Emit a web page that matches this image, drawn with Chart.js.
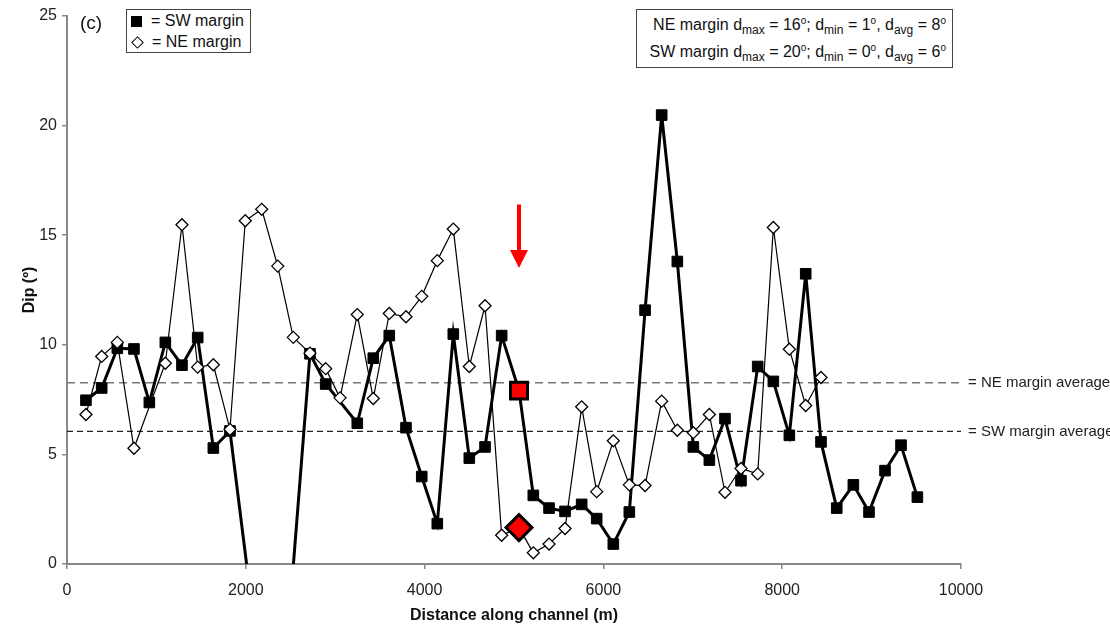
<!DOCTYPE html>
<html>
<head>
<meta charset="utf-8">
<script src="https://cdn.jsdelivr.net/npm/chart.js@4.4.1/dist/chart.umd.min.js"></script>
<style>
  body { margin: 0; background: #fff; font-family: "Liberation Sans", Arial, sans-serif; color: #111; }
  #wrap { position: relative; width: 1110px; height: 631px; }
  canvas { position: absolute; left: 0; top: 0; }
  .panel { position: absolute; left: 80px; top: 12px; font-size: 19px; }
  .box { position: absolute; border: 1.5px solid #444; background: #fff; font-size: 16px; line-height: 21px; box-sizing: border-box; }
  #legendBox { left: 126px; top: 9px; width: 125px; height: 44px; padding: 0 0 0 4px; }
  #statsBox { left: 636px; top: 9px; width: 317px; height: 59px; padding: 1px 6px 0 0; text-align: right; line-height: 27px; }
  #statsBox div { height: 27px; }
  .sq { display: inline-block; width: 11px; height: 11px; background: #000; margin-right: 9px; vertical-align: -1px; }
  .dm { display: inline-block; width: 7px; height: 7px; border: 1.5px solid #000; background: #fff; transform: rotate(45deg); margin: 0 10px 0 2px; vertical-align: 0px; }
  sub { font-size: 12px; vertical-align: -4px; line-height: 0; }
  sup { font-size: 10px; vertical-align: 6px; line-height: 0; }
</style>
</head>
<body>
<div id="wrap">
  <canvas id="dipChart" width="1110" height="631"></canvas>
  <div class="panel">(c)</div>
  <div class="box" id="legendBox">
    <div><span class="sq"></span>= SW margin</div>
    <div><span class="dm"></span>= NE margin</div>
  </div>
  <div class="box" id="statsBox">
    <div>NE margin d<sub>max</sub> = 16<sup>o</sup>; d<sub>min</sub> = 1<sup>o</sup>, d<sub>avg</sub> = 8<sup>o</sup></div>
    <div>SW margin d<sub>max</sub> = 20<sup>o</sup>; d<sub>min</sub> = 0<sup>o</sup>, d<sub>avg</sub> = 6<sup>o</sup></div>
  </div>
</div>
<script>
// SW margin (black squares, thick line) - one point near 2300 m falls below the axis
const swDistance = [212, 388, 563, 749, 921, 1100, 1286, 1462, 1637, 1823, 2330, 2718, 2894, 3247, 3426, 3605, 3792, 3968, 4142, 4321, 4500, 4676, 4862, 5056, 5216, 5392, 5571, 5757, 5925, 6111, 6290, 6466, 6652, 6827, 7006, 7185, 7360, 7539, 7726, 7901, 8080, 8263, 8434, 8610, 8796, 8971, 9150, 9329, 9512];
const swDip = [7.47, 8.03, 9.84, 9.81, 7.37, 10.11, 9.07, 10.33, 5.29, 6.07, -10.5, 9.59, 8.21, 6.42, 9.39, 10.42, 6.22, 3.99, 1.84, 10.49, 4.83, 5.34, 10.42, 7.91, 3.13, 2.55, 2.40, 2.72, 2.07, 0.91, 2.37, 11.58, 20.48, 13.80, 5.34, 4.74, 6.63, 3.80, 9.01, 8.33, 5.87, 13.24, 5.57, 2.55, 3.61, 2.37, 4.26, 5.42, 3.05];

// NE margin (open diamonds, thin line)
const neDistance = [212, 388, 563, 749, 1100, 1286, 1462, 1637, 1823, 1994, 2178, 2357, 2531, 2718, 2894, 3054, 3247, 3426, 3605, 3792, 3968, 4142, 4321, 4500, 4676, 4862, 5056, 5216, 5392, 5571, 5757, 5925, 6111, 6290, 6466, 6652, 6827, 7006, 7185, 7360, 7539, 7726, 7901, 8080, 8263, 8434];
const neDip = [6.82, 9.47, 10.11, 5.28, 9.16, 15.48, 8.98, 9.09, 6.14, 15.66, 16.18, 13.59, 10.34, 9.62, 8.91, 7.58, 11.38, 7.55, 11.43, 11.28, 12.21, 13.84, 15.28, 9.01, 11.78, 1.31, 1.66, 0.51, 0.91, 1.62, 7.17, 3.30, 5.62, 3.61, 3.58, 7.43, 6.10, 5.99, 6.82, 3.27, 4.36, 4.11, 15.35, 9.80, 7.23, 8.51];

const neAverage = 8.27;
const swAverage = 6.05;
const averageSpan = [0, 10000];

// highlighted station and the arrow above it
const highlightDistance = 5056;
const arrowFrom = 16.4;
const arrowTo = 13.5;

const xTicks = [0, 2000, 4000, 6000, 8000, 10000];
const yTicks = [0, 5, 10, 15, 20, 25];

const toPoints = (xs, ys) => xs.map((x, i) => ({ x: x, y: ys[i] }));
const pointAt = (xs, ys, x) => [{ x: x, y: ys[xs.indexOf(x)] }];

const FONT = '"Liberation Sans", Arial, sans-serif';
Chart.defaults.font.family = FONT;

const overlay = {
    id: 'overlay',
    afterDatasetsDraw(chart) {
        const { ctx } = chart;
        const x = chart.scales.x;
        const y = chart.scales.y;
        ctx.save();
        ctx.font = '15px ' + FONT;
        ctx.fillStyle = '#222';
        ctx.textBaseline = 'middle';
        ctx.fillText('= NE margin average', x.right + 7, y.getPixelForValue(neAverage));
        ctx.fillText('= SW margin average', x.right + 7, y.getPixelForValue(swAverage));

        // red arrow
        const ax = x.getPixelForValue(highlightDistance);
        const top = y.getPixelForValue(arrowFrom);
        const tip = y.getPixelForValue(arrowTo);
        ctx.fillStyle = '#f00';
        ctx.fillRect(ax - 2, top, 4, tip - top - 16);
        ctx.beginPath();
        ctx.moveTo(ax - 9, tip - 18);
        ctx.lineTo(ax + 9, tip - 18);
        ctx.lineTo(ax, tip);
        ctx.closePath();
        ctx.fill();
        ctx.restore();
    }
};

new Chart(document.getElementById('dipChart').getContext('2d'), {
    type: 'scatter',
    data: {
        datasets: [
            {
                label: 'highlight SW',
                data: pointAt(swDistance, swDip, highlightDistance),
                pointStyle: 'rect',
                pointRadius: 12,
                pointBackgroundColor: '#f00',
                pointBorderColor: '#000',
                pointBorderWidth: 3,
                order: 0
            },
            {
                label: 'highlight NE',
                data: pointAt(neDistance, neDip, highlightDistance),
                pointStyle: 'rectRot',
                pointRadius: 13,
                pointBackgroundColor: '#f00',
                pointBorderColor: '#000',
                pointBorderWidth: 3,
                order: 0
            },
            {
                label: 'NE margin',
                data: toPoints(neDistance, neDip),
                showLine: true,
                borderColor: '#000',
                borderWidth: 1.2,
                pointStyle: 'rectRot',
                pointRadius: 6,
                pointBackgroundColor: '#fff',
                pointBorderColor: '#000',
                pointBorderWidth: 1.3,
                order: 1
            },
            {
                label: 'SW margin',
                data: toPoints(swDistance, swDip),
                showLine: true,
                borderColor: '#000',
                borderWidth: 3,
                pointStyle: 'rect',
                pointRadius: 7.5,
                pointBackgroundColor: '#000',
                pointBorderColor: '#000',
                pointBorderWidth: 1,
                order: 2
            },
            {
                label: 'NE average',
                data: toPoints(averageSpan, averageSpan.map(() => neAverage)),
                showLine: true,
                borderColor: '#777',
                borderWidth: 1.6,
                borderDash: [8, 5],
                pointRadius: 0,
                order: 5
            },
            {
                label: 'SW average',
                data: toPoints(averageSpan, averageSpan.map(() => swAverage)),
                showLine: true,
                borderColor: '#222',
                borderWidth: 1.4,
                borderDash: [6, 4],
                pointRadius: 0,
                order: 5
            }
        ]
    },
    options: {
        responsive: false,
        animation: false,
        layout: { padding: { left: 0, top: 12, right: 149, bottom: 0 } },
        plugins: {
            legend: { display: false },
            tooltip: { enabled: false }
        },
        scales: {
            x: {
                type: 'linear',
                min: 0,
                max: 10000,
                afterBuildTicks: s => { s.ticks = xTicks.map(v => ({ value: v })); },
                afterFit: s => { s.height = 67; },
                ticks: { color: '#222', font: { size: 16 }, padding: 12, maxRotation: 0, callback: v => String(v) },
                grid: { drawOnChartArea: false, tickLength: 5, color: '#888', lineWidth: 1.5 },
                border: { color: '#888', width: 2 },
                title: { display: true, text: 'Distance along channel (m)', color: '#111', font: { size: 16, weight: 'bold' }, padding: { top: 4, bottom: 6 } }
            },
            y: {
                min: 0,
                max: 25,
                afterBuildTicks: s => { s.ticks = yTicks.map(v => ({ value: v })); },
                afterFit: s => { s.width = 67; },
                ticks: { color: '#222', font: { size: 16 }, padding: 5, callback: v => String(v) },
                grid: { drawOnChartArea: false, tickLength: 5, color: '#888', lineWidth: 1.5 },
                border: { color: '#888', width: 2 },
                title: { display: true, text: 'Dip (º)', color: '#111', font: { size: 16, weight: 'bold' }, padding: { top: 20, bottom: 4 } }
            }
        }
    },
    plugins: [overlay]
});
</script>
</body>
</html>
